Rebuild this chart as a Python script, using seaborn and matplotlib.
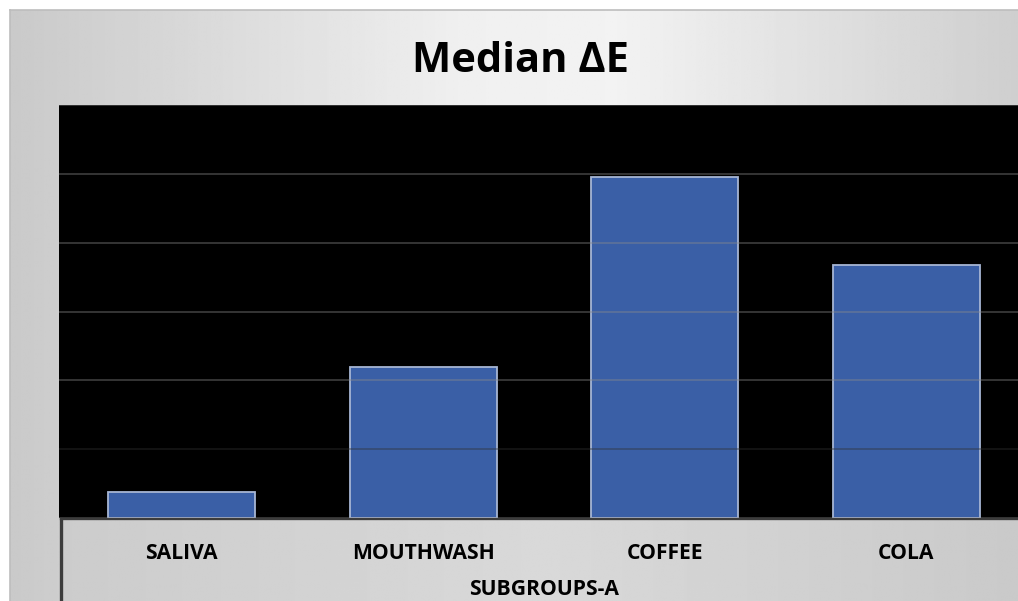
import numpy as np
import pandas as pd
import matplotlib
matplotlib.use("Agg")
import matplotlib.pyplot as plt
import seaborn as sns

# Median colour change per immersion medium
categories = ["SALIVA", "MOUTHWASH", "COFFEE", "COLA"]
median_delta_e = [0.38, 2.2, 4.95, 3.68]
y_ticks = [0, 1, 2, 3, 4, 5, 6]

title = "Median ΔE"
x_title = "SUBGROUPS-A"

sns.set_theme(style="white")
plt.rcParams["font.family"] = ["Open Sans", "DejaVu Sans"]

W, H = 1018, 601
fig = plt.figure(figsize=(W / 100, H / 100), dpi=100)
fig.patch.set_facecolor("white")


def px_rect(x0, y0, x1, y1):
    """Axes rectangle from pixel edges (origin top-left)."""
    return [x0 / W, 1 - y1 / H, (x1 - x0) / W, (y1 - y0) / H]


def hgrad(ax, stops):
    xs = np.linspace(0, 1, 400)
    pos = [s[0] for s in stops]
    vals = [s[1] for s in stops]
    g = np.interp(xs, pos, vals)
    img = np.tile(g, (2, 1))
    ax.imshow(img, cmap="gray", vmin=0, vmax=1, aspect="auto",
              extent=[0, 1, 0, 1], interpolation="bilinear")
    ax.set_xlim(0, 1)
    ax.set_ylim(0, 1)
    ax.set_xticks([])
    ax.set_yticks([])


# chart area background
bg = fig.add_axes(px_rect(10, 10, W + 2, H + 2), zorder=0)
hgrad(bg, [(0, 0.79), (0.45, 0.94), (0.6, 0.95), (1, 0.81)])
for side, sp in bg.spines.items():
    sp.set_visible(side in ("top", "left"))
    sp.set_color("#bdbdbd")
    sp.set_linewidth(1.2)

# category axis band below the plot
band = fig.add_axes(px_rect(61, 518, W + 3, H + 3), zorder=1)
hgrad(band, [(0, 0.80), (0.5, 0.85), (1, 0.79)])
for side, sp in band.spines.items():
    sp.set_visible(side in ("top", "left"))
    sp.set_color("#3c3c3c")
    sp.set_linewidth(2.4)

# plot area (left edge a couple of pixels outside the first category band)
left_px, right_px = 59, 1027
ax = fig.add_axes(px_rect(left_px, 105, right_px, 518), zorder=2)
ax.set_facecolor("black")

df = pd.DataFrame({"group": categories, "delta_e": median_delta_e})
sns.barplot(data=df, x="group", y="delta_e", order=categories, ax=ax,
            color="#3a5fa6", saturation=1, width=0.61,
            edgecolor="#a7b6d4", linewidth=1.3)

band_px = (1027 - 61) / len(categories)
ax.set_xlim(-0.5 - (61 - left_px) / band_px, len(categories) - 0.5)
ax.set_ylim(y_ticks[0], y_ticks[-1])
ax.set_yticks(y_ticks)
ax.set_yticklabels([])
ax.set_axisbelow(False)
ax.yaxis.grid(True, color="#8a8a8a", linewidth=1.2, alpha=0.45)
ax.xaxis.grid(False)
gl = ax.yaxis.get_gridlines()
gl[1].set_color("#303030")
for sp in ax.spines.values():
    sp.set_visible(False)

ax.tick_params(axis="x", length=0, pad=18)
ax.tick_params(axis="y", length=0)
for lab in ax.get_xticklabels():
    lab.set_fontsize(15.2)
    lab.set_fontweight("bold")
    lab.set_color("black")

ax.set_xlabel("")
ax.set_ylabel("")

# category-axis title, kept inside the lower edge
fig.text(544 / W, 1 / H, x_title, ha="center", va="bottom",
         fontsize=15.2, fontweight="bold", color="black")

fig.text(520 / W, 1 - 61 / H, title, ha="center", va="center",
         fontsize=30, fontweight="bold", color="black")

fig.savefig("out.png", dpi=100, facecolor=fig.get_facecolor())
